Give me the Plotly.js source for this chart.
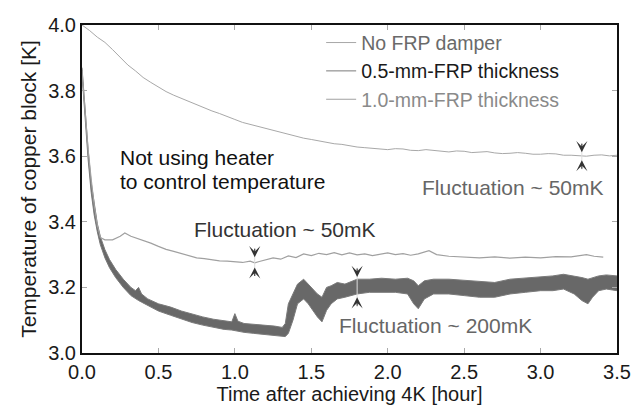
<!DOCTYPE html>
<html>
<head>
<meta charset="utf-8">
<script src="https://cdn.plot.ly/plotly-3.0.1.min.js"></script>
<style>html,body{margin:0;padding:0;background:#fff;}#chart{width:634px;height:406px;}</style>
</head>
<body>
<div id="chart"></div>
<script>
// ---- Data ----
// No FRP damper
const noFrpTime = [0, 0.05, 0.1, 0.15, 0.2, 0.25, 0.3, 0.35, 0.4, 0.45, 0.5, 0.55, 0.6, 0.65, 0.7, 0.75, 0.8, 0.85, 0.9, 0.95, 1.0, 1.05, 1.1, 1.15, 1.2, 1.25, 1.3, 1.35, 1.4, 1.45, 1.5, 1.55, 1.6, 1.65, 1.7, 1.75, 1.8, 1.85, 1.9, 1.95, 2.0, 2.05, 2.1, 2.15, 2.2, 2.25, 2.3, 2.35, 2.4, 2.45, 2.5, 2.55, 2.6, 2.65, 2.7, 2.75, 2.8, 2.85, 2.9, 2.95, 3.0, 3.05, 3.1, 3.15, 3.2, 3.25, 3.3, 3.35, 3.4, 3.45, 3.5];
const noFrpTemp = [4.0, 3.983, 3.963, 3.947, 3.925, 3.9, 3.878, 3.86, 3.84, 3.825, 3.81, 3.797, 3.786, 3.776, 3.766, 3.757, 3.748, 3.738, 3.73, 3.72, 3.712, 3.703, 3.697, 3.69, 3.685, 3.678, 3.672, 3.667, 3.66, 3.655, 3.651, 3.646, 3.643, 3.638, 3.636, 3.631, 3.628, 3.626, 3.624, 3.621, 3.62, 3.623, 3.622, 3.618, 3.617, 3.62, 3.618, 3.614, 3.613, 3.616, 3.615, 3.611, 3.612, 3.614, 3.61, 3.608, 3.609, 3.611, 3.609, 3.606, 3.606, 3.608, 3.607, 3.603, 3.603, 3.601, 3.6, 3.603, 3.604, 3.601, 3.603];

// 0.5-mm-FRP thickness (noisy band: lower and upper envelope)
const halfTime = [0, 0.02, 0.04, 0.06, 0.08, 0.1, 0.12, 0.15, 0.18, 0.22, 0.27, 0.32, 0.35, 0.37, 0.39, 0.43, 0.5, 0.58, 0.65, 0.72, 0.79, 0.86, 0.93, 0.98, 1.0, 1.02, 1.06, 1.12, 1.2, 1.26, 1.31, 1.33, 1.35, 1.38, 1.41, 1.45, 1.48, 1.51, 1.54, 1.57, 1.6, 1.63, 1.67, 1.72, 1.8, 1.88, 1.96, 2.05, 2.13, 2.17, 2.2, 2.24, 2.3, 2.4, 2.5, 2.6, 2.7, 2.8, 2.9, 3.0, 3.08, 3.15, 3.22, 3.27, 3.31, 3.34, 3.38, 3.43, 3.5];
const halfUpper = [3.87, 3.74, 3.62, 3.52, 3.45, 3.395, 3.355, 3.315, 3.285, 3.255, 3.225, 3.2, 3.19, 3.2, 3.18, 3.165, 3.15, 3.14, 3.128, 3.118, 3.11, 3.103, 3.097, 3.095, 3.12, 3.097, 3.09, 3.088, 3.085, 3.082, 3.078, 3.09, 3.15, 3.18, 3.21, 3.225, 3.21, 3.195, 3.18, 3.17, 3.2, 3.205, 3.215, 3.21, 3.225, 3.225, 3.228, 3.225, 3.228, 3.22, 3.205, 3.22, 3.225, 3.225, 3.222, 3.22, 3.215, 3.225, 3.228, 3.232, 3.235, 3.24, 3.235, 3.23, 3.225, 3.23, 3.235, 3.238, 3.235];
const halfLower = [3.85, 3.71, 3.59, 3.49, 3.42, 3.37, 3.33, 3.29, 3.26, 3.23, 3.2, 3.175, 3.165, 3.16, 3.155, 3.145, 3.128, 3.115, 3.103, 3.093, 3.085, 3.078, 3.072, 3.07, 3.068, 3.066, 3.063, 3.06, 3.056, 3.053, 3.05, 3.05, 3.06, 3.1, 3.15, 3.165, 3.15, 3.13, 3.11, 3.095, 3.13, 3.15, 3.165, 3.17, 3.18, 3.185, 3.185, 3.185, 3.18, 3.15, 3.135, 3.165, 3.18, 3.18, 3.175, 3.17, 3.17, 3.18, 3.185, 3.19, 3.19, 3.195, 3.18, 3.16, 3.15, 3.17, 3.19, 3.195, 3.19];

// 1.0-mm-FRP thickness
const oneTime = [0, 0.02, 0.04, 0.06, 0.08, 0.1, 0.12, 0.15, 0.2, 0.25, 0.28, 0.32, 0.36, 0.4, 0.45, 0.5, 0.55, 0.6, 0.65, 0.7, 0.75, 0.8, 0.85, 0.9, 0.95, 1.0, 1.05, 1.1, 1.13, 1.16, 1.2, 1.25, 1.3, 1.35, 1.4, 1.45, 1.5, 1.55, 1.6, 1.65, 1.7, 1.75, 1.8, 1.85, 1.9, 1.95, 2.0, 2.05, 2.1, 2.15, 2.2, 2.27, 2.32, 2.4, 2.5, 2.6, 2.7, 2.8, 2.9, 3.0, 3.1, 3.2, 3.3, 3.35, 3.41];
const oneTemp = [3.86, 3.74, 3.62, 3.53, 3.45, 3.39, 3.352, 3.345, 3.345, 3.356, 3.366, 3.356, 3.35, 3.344, 3.335, 3.325, 3.316, 3.31, 3.304, 3.296, 3.29, 3.288, 3.284, 3.281, 3.28, 3.278, 3.276, 3.28, 3.275, 3.279, 3.284, 3.29, 3.286, 3.296, 3.291, 3.302, 3.297, 3.304, 3.3, 3.306, 3.299, 3.305, 3.299, 3.302, 3.297, 3.301, 3.305, 3.3, 3.303, 3.298, 3.302, 3.312, 3.3, 3.295, 3.292, 3.29, 3.293, 3.289, 3.292, 3.29, 3.294, 3.293, 3.3, 3.295, 3.292];

const xTicks = [0, 0.5, 1.0, 1.5, 2.0, 2.5, 3.0, 3.5];
const yTicks = [3.0, 3.2, 3.4, 3.6, 3.8, 4.0];

const FONT = '"Liberation Sans", Arial, Helvetica, sans-serif';

const traces = [
  {x: noFrpTime, y: noFrpTemp, type: 'scatter', mode: 'lines',
   name: '<span style="color:#6a6a6a">No FRP damper</span>',
   line: {color: '#a8a8a8', width: 1}},
  {x: halfTime, y: halfLower, type: 'scatter', mode: 'lines',
   name: '<span style="color:#1a1a1a">0.5-mm-FRP thickness</span>',
   line: {color: '#7a7a7a', width: 1}},
  {x: halfTime, y: halfUpper, type: 'scatter', mode: 'lines', showlegend: false,
   fill: 'tonexty', fillcolor: '#686868',
   line: {color: '#7a7a7a', width: 1}},
  {x: oneTime, y: oneTemp, type: 'scatter', mode: 'lines',
   name: '<span style="color:#8a8a8a">1.0-mm-FRP thickness</span>',
   line: {color: '#a0a0a0', width: 1.2}}
];

function arrow(x, y, ay) {
  return {x: x, y: y, xref: 'x', yref: 'y', text: '', showarrow: true,
    arrowhead: 3, arrowsize: 1.7, arrowwidth: 1.1, arrowcolor: '#333', ax: 0, ay: ay};
}
function label(x, y, txt, color, anchor) {
  return {x: x, y: y, xref: 'x', yref: 'y', text: txt, showarrow: false,
    xanchor: anchor, yanchor: 'middle', font: {family: FONT, size: 21, color: color}};
}

const layout = {
  width: 634, height: 406,
  margin: {l: 82, r: 17, t: 25, b: 53},
  paper_bgcolor: '#fff', plot_bgcolor: '#fff',
  font: {family: FONT, color: '#1a1a1a'},
  showlegend: true,
  legend: {x: 0.447, y: 1.005, xanchor: 'left', yanchor: 'top', bgcolor: 'rgba(0,0,0,0)',
    traceorder: 'normal',
    font: {family: FONT, size: 19.5, color: '#333'}, tracegroupgap: 0, itemwidth: 30},
  xaxis: {range: [0, 3.5], tickvals: xTicks, ticktext: xTicks.map(v => v.toFixed(1)),
    ticks: 'inside', ticklen: 5, tickcolor: '#aaa', tickwidth: 1,
    showline: true, linecolor: '#111', linewidth: 2, mirror: 'ticks',
    showgrid: false, zeroline: false,
    tickfont: {family: FONT, size: 20, color: '#1a1a1a'},
    title: {text: 'Time after achieving 4K [hour]', font: {family: FONT, size: 20, color: '#1a1a1a'}, standoff: 4}},
  yaxis: {range: [3.0, 4.0], tickvals: yTicks, ticktext: yTicks.map(v => v.toFixed(1)),
    ticks: 'inside', ticklen: 5, tickcolor: '#aaa', tickwidth: 1,
    showline: true, linecolor: '#111', linewidth: 2, mirror: 'ticks',
    showgrid: false, zeroline: false,
    tickfont: {family: FONT, size: 20, color: '#1a1a1a'},
    title: {text: 'Temperature of copper block [K]', font: {family: FONT, size: 21, color: '#1a1a1a'}, standoff: 6}},
  shapes: [
    {type: 'line', xref: 'x', yref: 'y', x0: 1.13, x1: 1.13, y0: 3.235, y1: 3.32, line: {color: '#ddd', width: 1}},
    {type: 'line', xref: 'x', yref: 'y', x0: 3.27, x1: 3.27, y0: 3.56, y1: 3.64, line: {color: '#ddd', width: 1}},
    {type: 'line', xref: 'x', yref: 'y', x0: 1.8, x1: 1.8, y0: 3.14, y1: 3.26, line: {color: '#ddd', width: 1}}
  ],
  annotations: [
    label(0.235, 3.595, 'Not using heater', '#111', 'left'),
    label(0.235, 3.524, 'to control temperature', '#111', 'left'),
    label(0.72, 3.378, 'Fluctuation ~ 50mK', '#333', 'left'),
    label(3.43, 3.506, 'Fluctuation ~ 50mK', '#666', 'right'),
    label(1.668, 3.085, 'Fluctuation ~ 200mK', '#666', 'left'),
    arrow(1.13, 3.292, -10), arrow(1.13, 3.261, 10),
    arrow(3.27, 3.612, -10), arrow(3.27, 3.588, 10),
    arrow(1.8, 3.232, -10), arrow(1.8, 3.17, 10)
  ]
};

Plotly.newPlot('chart', traces, layout, {staticPlot: true, displayModeBar: false});
</script>
</body>
</html>
